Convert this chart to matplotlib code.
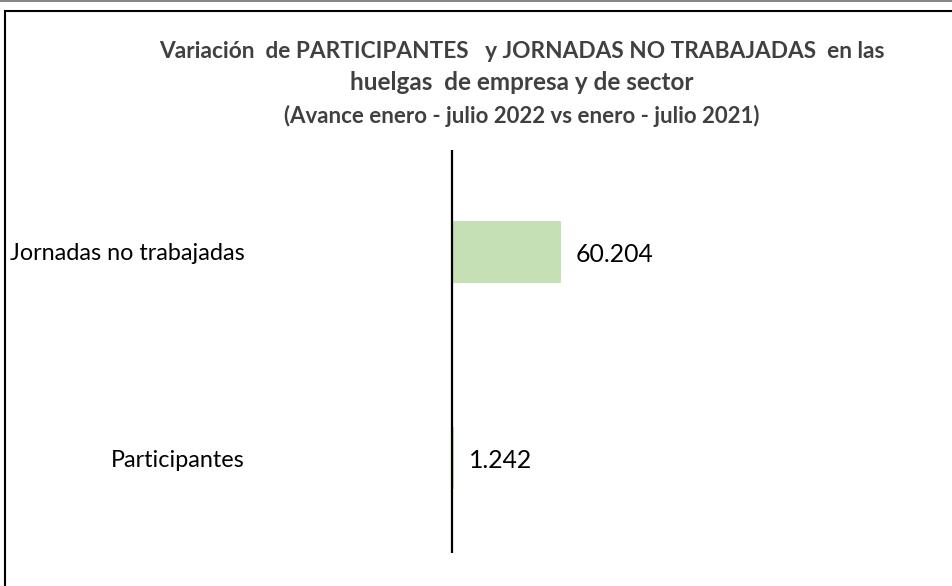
import matplotlib
matplotlib.use('Agg')
import matplotlib.pyplot as plt
from matplotlib.patches import Rectangle
from matplotlib.lines import Line2D

# data
categories = ['Participantes', 'Jornadas no trabajadas']
values = [1242, 60204]

title_lines = ['Variación  de PARTICIPANTES   y JORNADAS NO TRABAJADAS  en las',
               'huelgas  de empresa y de sector',
               '(Avance enero - julio 2022 vs enero - julio 2021)']

plt.rcParams['font.family'] = ['Lato', 'DejaVu Sans']

W, H = 953, 586
fig = plt.figure(figsize=(W / 100, H / 100), dpi=100)

# axes placed in pixel terms: left 250, right 930, top 150, bottom 553
ax = fig.add_axes([250 / W, 1 - 553 / H, 680 / W, 403 / H])
ax.barh(range(len(categories)), values, height=0.30, color='#C5E0B4')
ax.set_xlim(-111600, 264000)
ax.set_ylim(-0.461, 1.495)
ax.axvline(0, color='black', lw=1.6)

for i, v in enumerate(values):
    ax.annotate('{:,}'.format(v).replace(',', '.'), xy=(v, i), xytext=(10.5, -1.5),
                textcoords='offset points', va='center', ha='left',
                fontsize=17.8, color='black')

ax.set_yticks(range(len(categories)))
ax.set_yticklabels(categories, fontsize=16.8)
ax.tick_params(axis='y', length=0, pad=4)
ax.set_xticks([])
for s in ax.spines.values():
    s.set_visible(False)

# title
fig.text(522 / W, 1 - 52 / H, title_lines[0], ha='center', va='center',
         fontsize=16.3, fontweight='bold', color='#404040')
fig.text(522 / W, 1 - 83 / H, title_lines[1], ha='center', va='center',
         fontsize=17.5, fontweight='bold', color='#404040')
fig.text(522 / W, 1 - 116 / H, title_lines[2], ha='center', va='center',
         fontsize=16, fontweight='bold', color='#404040')

# frame
fig.add_artist(Line2D([0, 1], [1 - 0.8 / H, 1 - 0.8 / H], color='#707070', lw=1.2))
fig.add_artist(Rectangle((4.5 / W, -0.1), 1.2, 1.1 - 10.5 / H, fill=False,
                         edgecolor='black', lw=1.5, transform=fig.transFigure))

fig.savefig('out.png', dpi=100)
